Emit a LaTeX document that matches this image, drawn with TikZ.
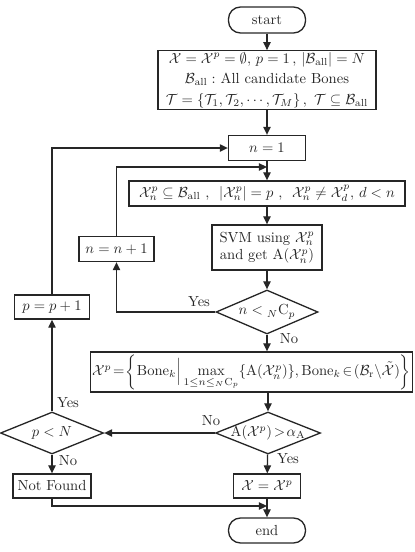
\documentclass[tikz,border=0pt]{standalone}
\usetikzlibrary{arrows.meta,shapes.geometric}
\newcommand\pxu{0.685pt}
\begin{document}
\begin{tikzpicture}[x=0.685pt,y=-0.685pt,
  line width=0.9pt, draw=black!85,
  box/.style={draw, rectangle, inner sep=1pt, align=center, text=black!85},
  term/.style={draw, rectangle, rounded corners=12*\pxu, inner sep=1pt, text=black!85},
  dia/.style={draw, diamond, inner sep=0pt, aspect=2.4},
  lbl/.style={inner sep=0pt, text=black!85},
  arr/.style={-{Triangle[length=5.5pt,width=5pt]}},
]
\useasboundingbox (0,0) rectangle (415,552);
% main column
\node[term, minimum width=77*\pxu, minimum height=26*\pxu] (start) at (267,20) {start};
\node[box, minimum width=218*\pxu, minimum height=58*\pxu] (init) at (267,80)
 {$\mathcal{X}=\mathcal{X}^p=\emptyset,\, p=1\,,\, |\mathcal{B}_{\rm all}|=N$\\[2pt]
  $\mathcal{B}_{\rm all}:$ All candidate Bones\\[2pt]
  $\mathcal{T}=\{\mathcal{T}_1,\mathcal{T}_2,\cdots,\mathcal{T}_M\}\,,\ \mathcal{T}\subseteq\mathcal{B}_{\rm all}$};
\node[box, minimum width=77*\pxu, minimum height=25*\pxu] (n1) at (267,148) {$n=1$};
\node[box, minimum width=276*\pxu, minimum height=25*\pxu] (cond) at (267,193.5)
 {$\mathcal{X}_n^p\subseteq\mathcal{B}_{\rm all}$ ,\ \ $|\mathcal{X}_n^p|=p$ ,\ \ $\mathcal{X}_n^p\neq\mathcal{X}_d^p,\, d<n$};
\node[box, minimum width=110*\pxu, minimum height=45*\pxu] (svm) at (267,247.5)
 {SVM using $\mathcal{X}_n^p$\\ and get A$(\mathcal{X}_n^p)$};
\node[dia, minimum width=102*\pxu, minimum height=44*\pxu] (d1) at (267,312) {};
\node[lbl] (d1t) at (d1) {$n<{}_N\mathrm{C}_p$};
\node[box, minimum width=309*\pxu, minimum height=40*\pxu] (maxb) at (251.5,372)
 {$\mathcal{X}^p\!=\!\left\{\mathrm{Bone}_k\Big|\max\limits_{1\le n\le {}_N\mathrm{C}_p}\{\mathrm{A}(\mathcal{X}_n^p)\},\mathrm{Bone}_k\!\in\!(\mathcal{B}_{\rm r}\backslash\tilde{\mathcal{X}})\right\}$};
\node[dia, minimum width=105*\pxu, minimum height=42*\pxu] (d2) at (268,433) {};
\node[lbl] (d2t) at (d2) {$\mathrm{A}(\mathcal{X}^p)\!>\!\alpha_{\mathrm{A}}$};
\node[box, minimum width=67*\pxu, minimum height=24*\pxu] (xb) at (267,486) {$\mathcal{X}=\mathcal{X}^p$};
\node[term, minimum width=77*\pxu, minimum height=25*\pxu] (end) at (267,530.5) {end};
% left column
\node[dia, minimum width=103*\pxu, minimum height=42*\pxu] (pn) at (52,433) {};
\node[lbl] (pnt) at (pn) {$p<N$};
\node[box, minimum width=78*\pxu, minimum height=24*\pxu] (nf) at (52,486) {Not Found};
\node[box, minimum width=75*\pxu, minimum height=24*\pxu] (pp) at (52,307) {$p=p+1$};
\node[box, minimum width=75*\pxu, minimum height=25*\pxu] (nn) at (116.5,249) {$n=n+1$};
% junction coordinates
\coordinate (j1) at (267,167);
\coordinate (j2) at (267,506);
% straight arrows
\draw[arr] (start) -- (init);
\draw[arr] (init) -- (n1);
\draw[arr] (n1) -- (cond);
\draw[arr] (cond) -- (svm);
\draw[arr] (svm) -- (d1);
\draw[arr] (d1.south) -- (d1.south |- maxb.north);
\draw[arr] (d2.north |- maxb.south) -- (d2.north);
\draw[arr] (d2) -- (xb);
\draw[arr] (xb) -- (end);
\draw[arr] (d2.west) -- (pn.east);
\draw[arr] (pn) -- (pp);
\draw[arr] (pn) -- (nf);
% loops
\draw[arr] (d1.west) -| (nn.south);
\draw[arr] (nn.north) |- (j1);
\draw[arr] (pp.north) |- (n1.west);
\draw[arr] (nf.south) |- (j2);
% labels
\node[lbl] (y1) at (199,302) {Yes};
\node[lbl] (n1l) at (289,339) {No};
\node[lbl] (n2l) at (211,421) {No};
\node[lbl] (y2) at (288,459) {Yes};
\node[lbl] (y3) at (68,403) {Yes};
\node[lbl] (n3l) at (68,461) {No};
\end{tikzpicture}
\end{document}
